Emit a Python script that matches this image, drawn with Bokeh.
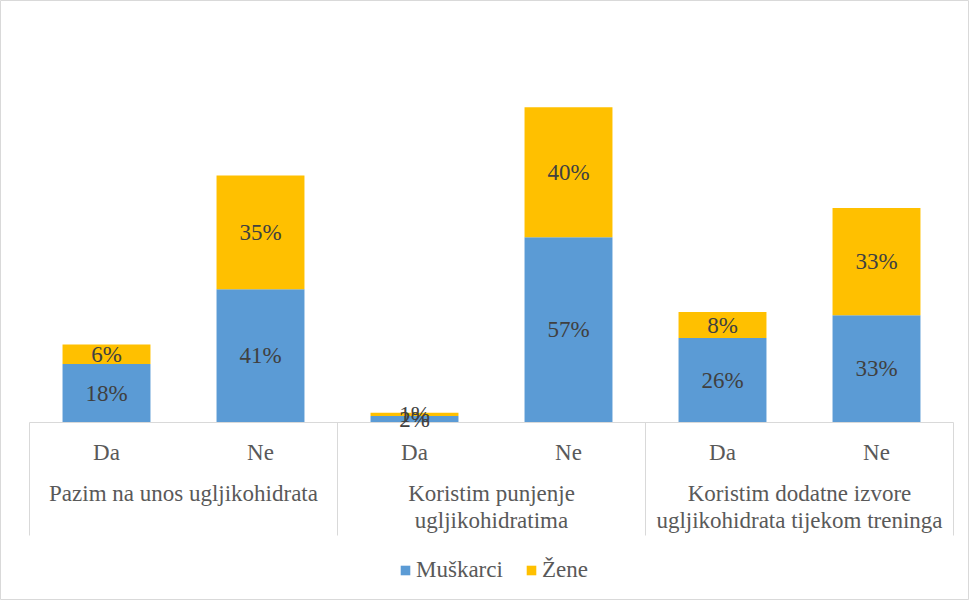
from bokeh.plotting import figure
from bokeh.models import ColumnDataSource, Range1d
from bokeh.core.properties import value
from bokeh.embed import file_html
from bokeh.resources import INLINE
import numpy as np

groups = ["Pazim na unos ugljikohidrata",
          "Koristim punjenje\nugljikohidratima",
          "Koristim dodatne izvore\nugljikohidrata tijekom treninga"]
answers = ["Da", "Ne", "Da", "Ne", "Da", "Ne"]
muskarci = [18, 41, 2, 57, 26, 33]
zene = [6, 35, 1, 40, 8, 33]
series = ["Muškarci", "Žene"]
colors = ["#5B9BD5", "#FFC000"]

FONT_NAME = "'Liberation Serif', 'Times New Roman', serif"
FONT = value(FONT_NAME)
FS = "23px"
n = len(answers)
xs = np.arange(n) + 0.5

src = ColumnDataSource(dict(x=xs, **{series[0]: muskarci, series[1]: zene}))

# pixel mapping: slot width 154px, first slot starts 29px inside frame; baseline 422px below top, 3.25px per %
W, H = 969, 600
slot = 154.0
x0 = -29.0 / slot
x1 = x0 + W / slot
ppu = 3.25
y1 = 422.0 / ppu
y0 = y1 - H / ppu

p = figure(width=W, height=H, x_range=Range1d(x0, x1), y_range=Range1d(y0, y1),
           x_axis_type=None, y_axis_type=None, toolbar_location=None,
           output_backend="svg", min_border=0)
p.grid.visible = False
p.outline_line_color = "#D9D9D9"
p.outline_line_width = 1

p.vbar_stack(series, x="x", width=0.571, source=src, color=colors,
             line_color=None, legend_label=series)

# axis line and group separators
axis_bottom = -113.0 / ppu
p.segment(x0=[0], y0=[0], x1=[n], y1=[0], line_color="#D9D9D9", line_width=1)
sep = np.arange(0, n + 1, 2)
p.segment(x0=sep, y0=np.zeros(len(sep)), x1=sep, y1=np.full(len(sep), axis_bottom),
          line_color="#D9D9D9", line_width=1)

# data labels
m = np.array(muskarci, dtype=float)
z = np.array(zene, dtype=float)
lx = np.concatenate([xs, xs])
ly = np.concatenate([m / 2, m + z / 2])
lt = [f"{v}%" for v in muskarci] + [f"{v}%" for v in zene]
p.text(x=lx, y=ly, text=lt, text_font=FONT, text_font_size=FS,
       text_align="center", text_baseline="middle", text_color="#404040")

# category labels
p.text(x=xs, y=np.full(n, -30.0 / ppu), text=answers, text_font=FONT,
       text_font_size=FS, text_align="center", text_baseline="middle",
       text_color="#595959")
gx = np.arange(len(groups)) * 2 + 1.0
p.text(x=gx, y=np.full(len(groups), -58.0 / ppu), text=groups, text_font=FONT,
       text_font_size=FS, text_align="center", text_baseline="top",
       text_line_height=1.1, text_color="#595959")

lg = p.legend[0]
lg.location = (399, 17)
lg.orientation = "horizontal"
lg.padding = 0
lg.spacing = 22
lg.glyph_width = 12
lg.glyph_height = 12
lg.label_standoff = 5
lg.label_text_font = FONT_NAME
lg.label_text_font_size = FS
lg.label_text_color = "#595959"
lg.background_fill_alpha = 0
lg.border_line_color = None

open("out.html", "w").write(file_html(p, INLINE))
